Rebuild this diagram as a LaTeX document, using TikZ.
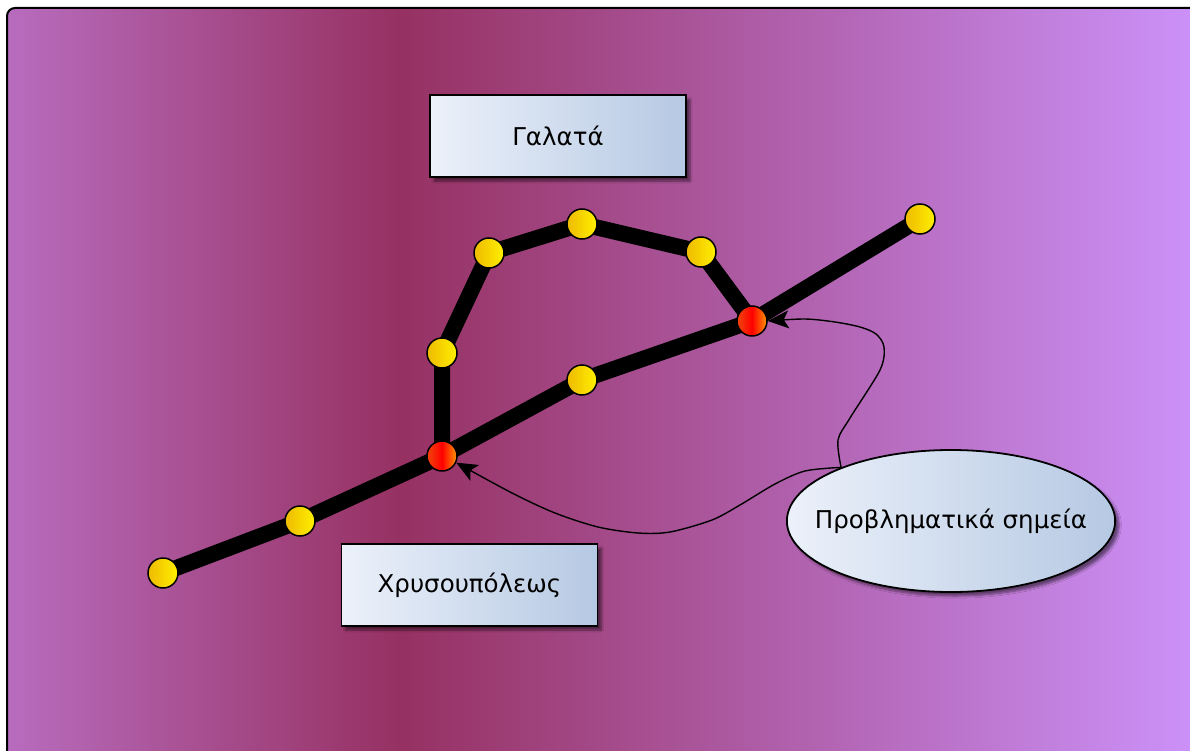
\documentclass[tikz,border=0pt]{standalone}
\usepackage{fontspec}
\setmainfont{DejaVu Sans}
\usetikzlibrary{shapes.geometric,arrows.meta,shadows.blur}

\definecolor{bgleft}{RGB}{184,108,190}
\definecolor{bgdark}{RGB}{150,49,98}
\definecolor{bgright}{RGB}{204,146,250}
\definecolor{boxleft}{RGB}{236,241,250}
\definecolor{boxright}{RGB}{182,201,227}
\definecolor{goldL}{RGB}{238,186,0}
\definecolor{goldR}{RGB}{255,240,0}
\definecolor{hubL}{RGB}{240,70,10}
\definecolor{hubR}{RGB}{255,150,0}

\pgfdeclarehorizontalshading{bgshade}{100bp}{color(0bp)=(bgleft); color(25bp)=(bgleft); color(41.5bp)=(bgdark); color(75bp)=(bgright); color(100bp)=(bgright)}

\pgfdeclarelayer{background}
\pgfsetlayers{background,main}

\tikzset{
  station/.style={circle,draw=black,line width=1.5pt,minimum size=30pt,inner sep=0pt,left color=goldL,right color=goldR},
  hub/.style={station,left color=hubL,right color=hubR,middle color=red},
  rail/.style={line width=16pt,black},
  place/.style={rectangle,draw=black,line width=1.8pt,minimum width=256pt,minimum height=82pt,
    left color=boxleft,right color=boxright,
    blur shadow={shadow xshift=4pt,shadow yshift=-4pt,shadow blur steps=6,shadow opacity=50},
    font=\fontsize{24.5}{29}\selectfont},
  remark/.style={place,ellipse,minimum width=326pt,minimum height=142pt,inner xsep=-20pt,inner ysep=0pt},
  pointer/.style={line width=1.4pt,-{Stealth[length=21pt,width=18pt,inset=5pt]}}
}

\begin{document}
\begin{tikzpicture}[x=1pt,y=-1pt]
  \useasboundingbox (0,0) rectangle (1190,751);

  % stations on the main line
  \node[station] (p1) at (163,573) {};
  \node[station] (p2) at (300,521) {};
  \node[hub] (h1) at (442,456) {};
  \node[station] (p3) at (582,380) {};
  \node[hub] (h2) at (752,321) {};
  \node[station] (p4) at (920,219) {};
  % stations on the loop
  \node[station] (q1) at (442,353) {};
  \node[station] (q2) at (489,253) {};
  \node[station] (q3) at (582,224) {};
  \node[station] (q4) at (701,252) {};

  \node[place] (galata) at (558,136) {Γαλατά};
  \node[place] (chrys) at (469.5,585) {Χρυσουπόλεως};
  \node[remark] (trouble) at (951,521) {Προβληματικά σημεία};

  \begin{pgfonlayer}{background}
    \shadedraw[shading=bgshade,draw=black,line width=2pt,rounded corners=8pt] (7,8) rectangle (1200,770);
    \draw[rail] (p1.center) -- (p2.center) -- (h1.center) -- (p3.center) -- (h2.center) -- (p4.center);
    \draw[rail] (h1.center) -- (q1.center) -- (q2.center) -- (q3.center) -- (q4.center) -- (h2.center);
  \end{pgfonlayer}

  \draw[pointer] plot[smooth,tension=0.5] coordinates {(trouble.154) (838,440) (850,418) (880,370) (884,347) (876,334) (860,327) (835,322) (805,319) (h2.east)};
  \draw[pointer] plot[smooth,tension=0.5] coordinates {(trouble.154) (805,471) (775,484) (740,505) (712,520) (670,532) (638,533) (598,527) (555,513) (512,493) (h1.-25)};
\end{tikzpicture}
\end{document}
